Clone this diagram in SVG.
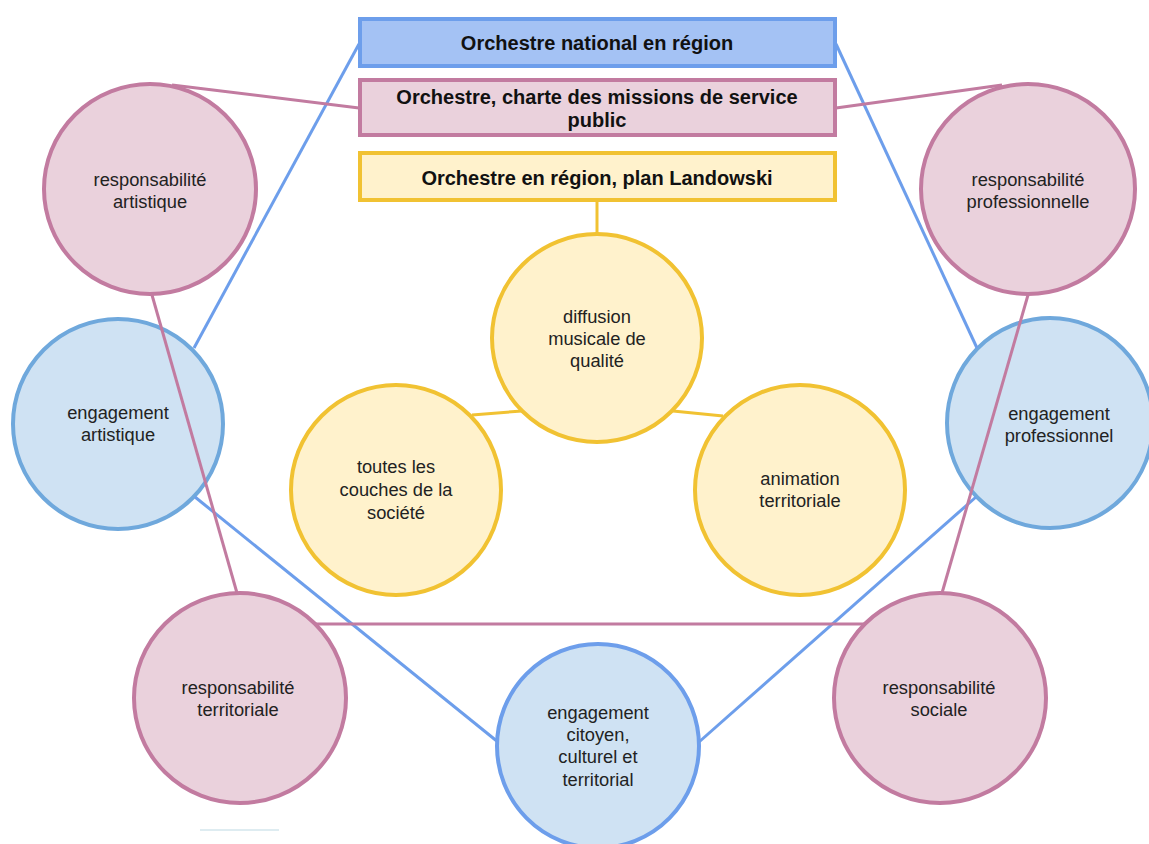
<svg xmlns="http://www.w3.org/2000/svg" width="1149" height="844" viewBox="0 0 1149 844">
  <style>
    .lbl { font-family: "Liberation Sans", Arial, sans-serif; font-size: 18.3px; fill: #222; text-anchor: middle; }
    .ttl { font-family: "Liberation Sans", Arial, sans-serif; font-size: 20px; font-weight: bold; fill: #111; text-anchor: middle; }
    .pinkN { fill: #ead1dc; stroke: #c27ba0; stroke-width: 4; }
    .blueN { fill: #cfe2f3; stroke: #6fa8dc; stroke-width: 4; }
    .blueN2 { fill: #cfe2f3; stroke: #6d9eeb; stroke-width: 4; }
    .yelN { fill: #fff2cc; stroke: #f1c232; stroke-width: 4; }
    .topN { fill: #a4c2f4; stroke: #6d9eeb; stroke-width: 4; }
    .cb { stroke: #6d9eeb; stroke-width: 3; fill: none; }
    .cp { stroke: #c27ba0; stroke-width: 3; fill: none; }
    .cy { stroke: #f1c232; stroke-width: 3; fill: none; }
  </style>
  <rect width="1149" height="844" fill="#ffffff"/>

  <g id="box-national">
    <rect class="topN" x="360" y="19" width="475" height="47"/>
    <text class="ttl" x="597" y="50">Orchestre national en région</text>
  </g>
  <g id="box-charte">
    <rect class="pinkN" x="360" y="80" width="475" height="55"/>
    <text class="ttl" x="597" y="104">Orchestre, charte des missions de service</text>
    <text class="ttl" x="597" y="127">public</text>
  </g>
  <g id="box-landowski">
    <rect class="yelN" x="360" y="153" width="475" height="47"/>
    <text class="ttl" x="597" y="185">Orchestre en région, plan Landowski</text>
  </g>

  <g id="resp-artistique">
    <ellipse class="pinkN" cx="150" cy="189" rx="106" ry="105"/>
    <text class="lbl" x="150" y="186">responsabilité</text>
    <text class="lbl" x="150" y="208">artistique</text>
  </g>
  <g id="resp-professionnelle">
    <ellipse class="pinkN" cx="1028" cy="189" rx="107" ry="105"/>
    <text class="lbl" x="1028" y="186">responsabilité</text>
    <text class="lbl" x="1028" y="208">professionnelle</text>
  </g>
  <g id="eng-artistique">
    <ellipse class="blueN" cx="118" cy="424" rx="105" ry="105"/>
    <text class="lbl" x="118" y="419">engagement</text>
    <text class="lbl" x="118" y="441">artistique</text>
  </g>
  <g id="eng-professionnel">
    <ellipse class="blueN" cx="1050" cy="423" rx="103" ry="105"/>
    <text class="lbl" x="1059" y="420">engagement</text>
    <text class="lbl" x="1059" y="442">professionnel</text>
  </g>
  <g id="resp-territoriale">
    <ellipse class="pinkN" cx="240" cy="698" rx="106" ry="105"/>
    <text class="lbl" x="238" y="694">responsabilité</text>
    <text class="lbl" x="238" y="716">territoriale</text>
  </g>
  <g id="resp-sociale">
    <ellipse class="pinkN" cx="940" cy="698" rx="106" ry="105"/>
    <text class="lbl" x="939" y="694">responsabilité</text>
    <text class="lbl" x="939" y="716">sociale</text>
  </g>
  <g id="eng-citoyen">
    <ellipse class="blueN2" cx="598" cy="746" rx="101" ry="102"/>
    <text class="lbl" x="598" y="719">engagement</text>
    <text class="lbl" x="598" y="741">citoyen,</text>
    <text class="lbl" x="598" y="763">culturel et</text>
    <text class="lbl" x="598" y="786">territorial</text>
  </g>
  <g id="diffusion">
    <ellipse class="yelN" cx="597" cy="338" rx="105" ry="104"/>
    <text class="lbl" x="597" y="323">diffusion</text>
    <text class="lbl" x="597" y="345">musicale de</text>
    <text class="lbl" x="597" y="367">qualité</text>
  </g>
  <g id="toutes-couches">
    <ellipse class="yelN" cx="396" cy="490" rx="105" ry="105"/>
    <text class="lbl" x="396" y="473">toutes les</text>
    <text class="lbl" x="396" y="496">couches de la</text>
    <text class="lbl" x="396" y="519">société</text>
  </g>
  <g id="animation">
    <ellipse class="yelN" cx="800" cy="490" rx="105" ry="105"/>
    <text class="lbl" x="800" y="485">animation</text>
    <text class="lbl" x="800" y="507">territoriale</text>
  </g>

  <g id="connectors">
    <line class="cy" x1="597" y1="202" x2="597" y2="234"/>
    <line class="cy" x1="472" y1="415" x2="522" y2="411"/>
    <line class="cy" x1="673" y1="411" x2="723" y2="416"/>
    <line class="cb" x1="359" y1="44" x2="194" y2="348"/>
    <line class="cb" x1="836" y1="44" x2="977" y2="348"/>
    <line class="cb" x1="195" y1="497" x2="498" y2="742"/>
    <line class="cb" x1="976" y1="497" x2="699" y2="742"/>
    <line class="cp" x1="359" y1="108" x2="172" y2="85"/>
    <line class="cp" x1="836" y1="108" x2="1002" y2="85"/>
    <line class="cp" x1="152" y1="295" x2="237" y2="593"/>
    <line class="cp" x1="1028" y1="295" x2="942" y2="593"/>
    <line class="cp" x1="315" y1="624" x2="864" y2="624"/>
  </g>

  <line x1="200" y1="830" x2="279" y2="830" stroke="#d3e6ec" stroke-width="1.5"/>
</svg>
